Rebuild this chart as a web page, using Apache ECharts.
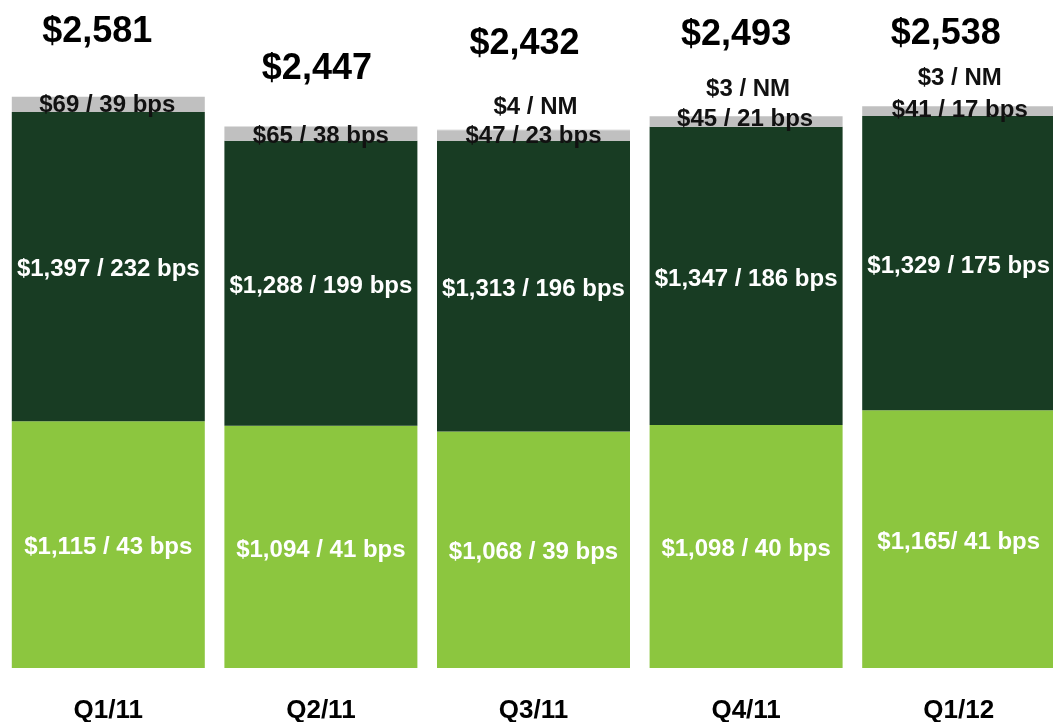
<!DOCTYPE html>
<html>
<head>
<meta charset="utf-8">
<script src="https://cdn.jsdelivr.net/npm/echarts@6/dist/echarts.min.js"></script>
<style>
  html, body { margin: 0; padding: 0; background: #fff; }
  #chart { width: 1053px; height: 722px; }
</style>
</head>
<body>
<div id="chart"></div>
<script>
// quarters
const quarters = ['Q1/11', 'Q2/11', 'Q3/11', 'Q4/11', 'Q1/12'];

// $ values per segment (bottom to top)
const lightVals = [1115, 1094, 1068, 1098, 1165];
const darkVals = [1397, 1288, 1313, 1347, 1329];
const grayVals = [69, 65, 47, 45, 41];
const otherVals = [0, 0, 4, 3, 3];
const totals = [2581, 2447, 2432, 2493, 2538];

// segment label texts
const lightLabels = ['$1,115 / 43 bps', '$1,094 / 41 bps', '$1,068 / 39 bps', '$1,098 / 40 bps', '$1,165/ 41 bps'];
const darkLabels = ['$1,397 / 232 bps', '$1,288 / 199 bps', '$1,313 / 196 bps', '$1,347 / 186 bps', '$1,329 / 175 bps'];
const grayLabels = ['$69 / 39 bps', '$65 / 38 bps', '$47 / 23 bps', '$45 / 21 bps', '$41 / 17 bps'];
const otherLabels = ['', '', '$4 / NM', '$3 / NM', '$3 / NM'];

// label nudges (px)
const grayOffsets = [[-1, 1], [0, 3], [0, 1], [-1, -2], [1, -1]];
const otherOffsets = [[0, 0], [0, 0], [2, -23], [2, -27], [1, -28]];
const totalOffsets = [[-11, -65], [-4, -57], [-9, -86], [-10, -81], [-13, -72]];

const FONT = '"Liberation Sans", Arial, sans-serif';

function items(vals, texts, offsets) {
    return vals.map((v, i) => {
        let it = { value: v, label: { formatter: texts[i], offset: offsets ? offsets[i] : [0, 3] } };
        if (!texts[i]) it.label.show = false;
        return it;
    });
}

const chart = echarts.init(document.getElementById('chart'));

const segLabel = (color) => ({
    show: true,
    position: 'inside',
    color: color,
    fontFamily: FONT,
    fontWeight: 'bold',
    fontSize: 24
});

chart.setOption({
    animation: false,
    grid: { left: 2, right: -12, top: 4, bottom: 54, outerBoundsMode: 'none', containLabel: false },
    xAxis: {
        type: 'category',
        data: quarters,
        axisLine: { show: false },
        axisTick: { show: false },
        axisLabel: {
            margin: 30,
            color: '#000',
            fontFamily: FONT,
            fontWeight: 'bold',
            fontSize: 26
        }
    },
    yAxis: {
        type: 'value',
        min: 0,
        max: 3000,
        show: false,
        splitLine: { show: false }
    },
    series: [
        {
            type: 'bar', stack: 'total', barWidth: 193,
            itemStyle: { color: '#8CC63F' },
            label: segLabel('#fff'),
            data: items(lightVals, lightLabels)
        },
        {
            type: 'bar', stack: 'total',
            itemStyle: { color: '#183C23' },
            label: segLabel('#fff'),
            data: items(darkVals, darkLabels)
        },
        {
            type: 'bar', stack: 'total',
            itemStyle: { color: '#C0C0C0' },
            label: segLabel('#111'),
            data: items(grayVals, grayLabels, grayOffsets)
        },
        {
            type: 'bar', stack: 'total',
            itemStyle: { color: '#C0C0C0' },
            label: segLabel('#111'),
            data: items(otherVals, otherLabels, otherOffsets)
        },
        {
            type: 'scatter',
            symbolSize: 0,
            z: 10,
            itemStyle: { opacity: 1 },
            label: {
                show: true,
                position: 'inside',
                color: '#000',
                fontFamily: FONT,
                fontWeight: 'bold',
                fontSize: 36
            },
            data: totals.map((v, i) => ({
                value: v,
                label: {
                    formatter: '$' + v.toLocaleString('en-US'),
                    offset: totalOffsets[i]
                }
            }))
        }
    ]
});
</script>
</body>
</html>
